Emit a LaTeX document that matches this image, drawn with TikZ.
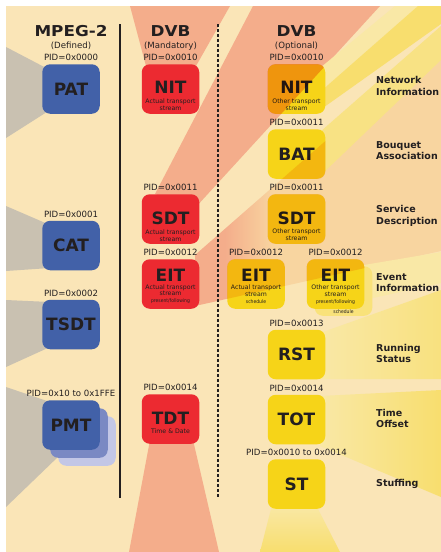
\documentclass[tikz,border=0pt]{standalone}
\usepackage{fontspec}
\setmainfont{DejaVu Sans}
\newfontfamily\headfont[FakeStretch=1.12]{DejaVu Sans}
\newfontfamily\condfont[FakeStretch=0.9]{DejaVu Sans}
\usetikzlibrary{positioning}

\definecolor{cream}{HTML}{FAE5B7}
\definecolor{graybeam}{HTML}{C9C1B1}
\definecolor{salmon}{HTML}{F4AD8B}
\definecolor{ocream}{HTML}{F8D5A0}
\definecolor{lyellow}{HTML}{F9E8A6}
\definecolor{ybeam}{HTML}{F8DE6E}
\definecolor{boxblue}{HTML}{4261A8}
\definecolor{bluetwo}{HTML}{7A89C3}
\definecolor{bluethree}{HTML}{C3C7E6}
\definecolor{boxred}{HTML}{EC2A31}
\definecolor{boxyellow}{HTML}{F6D418}
\definecolor{yshadow}{HTML}{F9E27A}
\definecolor{tintsdt}{HTML}{F8B48E}
\definecolor{tinteit}{HTML}{FCDDB0}
\definecolor{ink}{HTML}{231F20}

\pgfdeclarehorizontalshading{eitbeam}{100bp}{color(0bp)=(salmon); color(31bp)=(salmon);
  color(41bp)=(ocream); color(100bp)=(ocream)}

% light beams
\def\beamnit{(130,6) -- (230,6) -- (196,66) -- (146,66) -- cycle}
\def\beamsdt{(253,6) -- (380,6) -- (195,208) -- (155,194) -- cycle}
\def\beameit{(195,255) -- (441,40) -- (441,251) -- (195,306) -- cycle}

\begin{document}
\begin{tikzpicture}[x=1pt,y=-1pt,
    box/.style={rounded corners=8pt,minimum width=57.5pt,minimum height=49.5pt,
      inner sep=2pt,text=ink,font=\bfseries\fontsize{17}{17}\selectfont},
    blue box/.style={box,fill=boxblue},
    red box/.style={box,fill=boxred},
    yellow box/.style={box,fill=boxyellow},
    pid/.style={text=ink,inner sep=3pt,font=\fontsize{8.6}{10}\selectfont},
    sub/.style={yshift=#1,align=center,inner sep=0.5pt,text=ink,
      font=\fontsize{6.2}{6.8}\selectfont},
    sub/.default=-16pt,
    tiny/.style={text=ink,inner sep=2.5pt,font=\condfont\fontsize{5}{6}\selectfont},
    head/.style={text=ink,font=\headfont\bfseries\fontsize{15}{15}\selectfont},
    note/.style={text=ink,font=\fontsize{8.6}{10}\selectfont},
    desc/.style={anchor=west,align=left,text=ink,inner sep=0pt,
      font=\bfseries\fontsize{9.5}{11.5}\selectfont},
    label distance=0pt]

\useasboundingbox (0,0) rectangle (441,552);
\clip (0,0) rectangle (441,552);
\fill[white] (0,0) rectangle (441,552);
\fill[cream] (6,6) rectangle (441,552);

% beams
\fill[graybeam] (6,47) -- (50,70) -- (50,110) -- (6,138) -- cycle;
\fill[graybeam] (6,206) -- (50,225) -- (50,268) -- (6,271) -- cycle;
\fill[graybeam] (6,300) -- (50,302) -- (50,347) -- (6,367) -- cycle;
\fill[graybeam] (6,387) -- (50,402) -- (60,455) -- (6,507) -- cycle;
\fill[salmon] \beamnit;
\fill[salmon] \beamsdt;
\shade[shading=eitbeam] \beameit;
\fill[salmon] (150,440) -- (193,440) -- (219,552) -- (129,552) -- cycle;
\fill[lyellow] (320,68) -- (395,6) -- (418,6) -- (320,92) -- cycle;
\fill[ybeam] (320,92) -- (418,6) -- (441,6) -- (441,24) -- (320,110) -- cycle;
\fill[ybeam!60!lyellow] (320,132) -- (441,26) -- (441,60) -- (320,176) -- cycle;
\fill[lyellow] (364,265) -- (441,252) -- (441,283) -- (364,300) -- cycle;
\shade[left color=lyellow,right color=ybeam!70!lyellow] (320,333) -- (441,290) -- (441,379) -- (320,379) -- cycle;
\shade[left color=lyellow,right color=ybeam] (320,396) -- (441,390) -- (441,497) -- (320,446) -- cycle;
\shade[top color=lyellow,bottom color=ybeam] (272,505) -- (316,505) -- (340,552) -- (260,552) -- cycle;

% column rules
\coordinate (ruletop) at (120,24);
\coordinate (rulebot) at (120,498);
\coordinate (dashtop) at (218,24);
\coordinate (dashbot) at (218,498);
\draw[ink,line width=1.3pt] (ruletop) -- (rulebot);
\draw[ink,line width=1.5pt,dash pattern=on 3pt off 2pt] (dashtop) -- (dashbot);

% headings
\node[head] (mpeg) at (71,31) {MPEG-2};
\node[note] (defined) at (71,46) {(Defined)};
\node[head] (dvbm) at (170.5,31) {DVB};
\node[note] (mandatory) at (170.5,46) {(Mandatory)};
\node[head] (dvbo) at (296.5,31) {DVB};
\node[note] (optional) at (296.5,46) {(Optional)};

% MPEG-2 tables
\node[blue box] (pat) at (71,89) [label={[pid]above:PID=0x0000}] {PAT};
\node[blue box] (cat) at (71,245.5) [label={[pid]above:PID=0x0001}] {CAT};
\node[blue box] (tsdt) at (71,324.5) [label={[pid]above:PID=0x0002}] {TSDT};
\node[box,fill=bluethree] (pmtc) at (87,441) {};
\node[box,fill=bluetwo] (pmtb) at (79,433) {};
\node[blue box] (pmt) at (71,425) [label={[pid]above:PID=0x10 to 0x1FFE}] {PMT};

% DVB mandatory tables
\node[red box,text depth=4pt] (nitm) at (170.5,89)
  [label={[pid]above:PID=0x0010}, label={[sub]center:Actual transport\\stream}] {NIT};
\node[red box,text depth=2pt] (sdtm) at (170.5,219)
  [label={[pid]above:PID=0x0011}, label={[sub=-16.5pt]center:Actual transport\\stream}] {SDT};
\node[red box,text depth=18pt] (eitm) at (170.5,284)
  [label={[pid]above:PID=0x0012},
   label={[sub=-10pt]center:Actual transport\\stream\\\condfont\fontsize{5}{6}\selectfont present/following}] {EIT};
\node[red box,text depth=2pt] (tdt) at (170.5,419)
  [label={[pid]above:PID=0x0014}, label={[sub=-12pt]center:Time \& Date}] {TDT};

% DVB optional tables
\node[yellow box,text depth=4pt] (nito) at (296.5,89)
  [label={[pid]above:PID=0x0010}, label={[sub=-15.5pt]center:Other transport\\stream}] {NIT};
\node[yellow box] (bat) at (296.5,154) [label={[pid]above:PID=0x0011}] {BAT};
\node[yellow box,text depth=2pt] (sdto) at (296.5,219)
  [label={[pid]above:PID=0x0011}, label={[sub=-15.5pt]center:Other transport\\stream}] {SDT};
\node[yellow box,text depth=18pt] (eita) at (256,284)
  [label={[pid]above:PID=0x0012},
   label={[sub=-10pt]center:Actual transport\\stream\\\condfont\fontsize{5}{6}\selectfont schedule}] {EIT};
\node[box,fill=yshadow] (eitsched) at (343.5,291)
  [label={[tiny,anchor=south]south:schedule}] {};
\node[yellow box,text depth=18pt] (eito) at (335.5,284)
  [label={[pid]above:PID=0x0012},
   label={[sub=-10.5pt]center:Other transport\\stream\\\condfont\fontsize{5}{6}\selectfont present/following}] {EIT};
\node[yellow box] (rst) at (296.5,354.5) [label={[pid]above:PID=0x0013}] {RST};
\node[yellow box] (tot) at (296.5,419.5) [label={[pid]above:PID=0x0014}] {TOT};
\node[yellow box] (st) at (296.5,484) [label={[pid]above:PID=0x0010 to 0x0014}] {ST};

% beams shining through the optional tables
\begin{scope}
  \clip[rounded corners=8pt] (nito.south west) rectangle (nito.north east)
    (bat.south west) rectangle (bat.north east)
    (sdto.south west) rectangle (sdto.north east)
    (eita.south west) rectangle (eita.north east)
    (eito.south west) rectangle (eito.north east);
  \fill[tintsdt,blend mode=multiply] \beamsdt;
  \fill[tinteit,blend mode=multiply] \beameit;
\end{scope}

% table names
\node[desc] (netinfo) at (376,86) {Network\\Information};
\node[desc] (bouquet) at (376,150.5) {Bouquet\\Association};
\node[desc] (service) at (376,216) {Service\\Description};
\node[desc] (event) at (376,282.5) {Event\\Information};
\node[desc] (running) at (376,353.5) {Running\\Status};
\node[desc] (timeoff) at (376,418.5) {Time\\Offset};
\node[desc] (stuffing) at (376,484) {Stuffing};

\end{tikzpicture}
\end{document}
